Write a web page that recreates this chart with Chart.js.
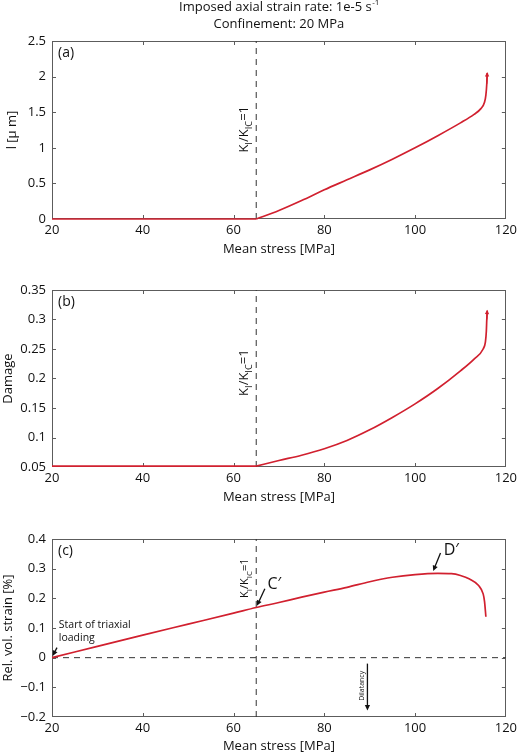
<!DOCTYPE html>
<html>
<head>
<meta charset="utf-8">
<script src="https://cdn.jsdelivr.net/npm/chart.js@4.4.1/dist/chart.umd.min.js"></script>
<style>
  html, body { margin: 0; padding: 0; background: #fff; }
  #wrap { position: relative; width: 520px; height: 754px; }
  .panel { position: absolute; left: 0; width: 520px; }
</style>
</head>
<body>
<div id="wrap">
  <div class="panel" style="top:0;height:257px"><canvas id="chartA"></canvas></div>
  <div class="panel" style="top:257px;height:248px"><canvas id="chartB"></canvas></div>
  <div class="panel" style="top:505px;height:249px"><canvas id="chartC"></canvas></div>
</div>
<script>
// values
const kThreshold = 65;
const ticksX = [20, 40, 60, 80, 100, 120];

const stressA = [20, 65, 70, 75, 80, 85, 90, 95, 100, 105, 110, 113, 114.5, 115.3, 115.6, 115.8, 115.9];
const lengthA = [0, 0, 0.12, 0.26, 0.41, 0.55, 0.69, 0.84, 1.0, 1.17, 1.35, 1.47, 1.55, 1.64, 1.74, 1.9, 2.05];
const ticksA = [0, 0.5, 1, 1.5, 2, 2.5];

const stressB = [20, 65, 70, 75, 80, 85, 90, 95, 100, 105, 110, 113, 115, 115.5, 115.7, 115.8, 115.9];
const damageB = [0.0515, 0.0515, 0.061, 0.070, 0.081, 0.095, 0.113, 0.134, 0.157, 0.183, 0.213, 0.233, 0.25, 0.262, 0.28, 0.3, 0.315];
const ticksB = [0.05, 0.1, 0.15, 0.2, 0.25, 0.3, 0.35];

const stressC = [20, 30, 40, 50, 60, 65, 70, 75, 80, 85, 90, 95, 100, 105, 108, 110, 112, 114, 115, 115.3, 115.6];
const strainC = [0, 0.038, 0.076, 0.113, 0.15, 0.169, 0.186, 0.204, 0.221, 0.237, 0.256, 0.271, 0.28, 0.284, 0.283, 0.277, 0.265, 0.243, 0.215, 0.19, 0.138];
const ticksC = [-0.2, -0.1, 0, 0.1, 0.2, 0.3, 0.4];

// annotations of panel (c), in data units
const arrowsC = [
  { from: [66.9, 0.232], to: [65.15, 0.175] },
  { from: [105.6, 0.353], to: [104.0, 0.292] },
  { from: [21.1, 0.034], to: [20.15, 0.006] },
  { from: [89.5, -0.02], to: [89.5, -0.178] }
];
const labelsC = [
  { text: 'C\u2032', at: [69.0, 0.248], size: 16 },
  { text: 'D\u2032', at: [108.0, 0.36], size: 16 },
  { text: 'Start of triaxial', at: [21.5, 0.11], size: 10.5, align: 'left' },
  { text: 'loading', at: [21.5, 0.066], size: 10.5, align: 'left' },
  { text: 'Dilatancy', at: [88.4, -0.095], size: 7, rotate: true }
];

const FONT = '"Open Sans", "DejaVu Sans", sans-serif';
const RED = '#d1202f';
const AXIS = '#5c5c5c';
const INK = '#111';

const pts = (xs, ys) => xs.map((x, i) => ({ x: x, y: ys[i] }));
const fmt = v => String(Number(v.toFixed(2))).replace('-', '\u2212');

function arrow(ctx, x1, y1, x2, y2, size, color) {
  const ang = Math.atan2(y2 - y1, x2 - x1);
  ctx.save();
  ctx.strokeStyle = color;
  ctx.fillStyle = color;
  ctx.lineWidth = 1.3;
  ctx.beginPath();
  ctx.moveTo(x1, y1);
  ctx.lineTo(x2 - Math.cos(ang) * size * 0.8, y2 - Math.sin(ang) * size * 0.8);
  ctx.stroke();
  ctx.beginPath();
  ctx.moveTo(x2, y2);
  ctx.lineTo(x2 - size * Math.cos(ang - 0.45), y2 - size * Math.sin(ang - 0.45));
  ctx.lineTo(x2 - size * Math.cos(ang + 0.45), y2 - size * Math.sin(ang + 0.45));
  ctx.closePath();
  ctx.fill();
  ctx.restore();
}

// K_I/K_IC=1, rotated, with subscripts
function kLabel(ctx, x, y, size) {
  const parts = [['K', 0], ['I', 1], ['/K', 0], ['IC', 1], ['=1', 0]];
  const sub = size * 0.72;
  let w = 0;
  parts.forEach(p => {
    ctx.font = (p[1] ? sub : size) + 'px ' + FONT;
    w += ctx.measureText(p[0]).width;
  });
  ctx.save();
  ctx.translate(x, y);
  ctx.rotate(-Math.PI / 2);
  ctx.fillStyle = INK;
  ctx.textAlign = 'left';
  ctx.textBaseline = 'alphabetic';
  let cx = -w / 2;
  parts.forEach(p => {
    ctx.font = (p[1] ? sub : size) + 'px ' + FONT;
    ctx.fillText(p[0], cx, p[1] ? size * 0.3 : 0);
    cx += ctx.measureText(p[0]).width;
  });
  ctx.restore();
}

const boxPlugin = {
  id: 'matlabBox',
  beforeDatasetsDraw(chart) {
    const ctx = chart.ctx;
    const a = chart.chartArea;
    const xs = chart.scales.x, ys = chart.scales.y;
    ctx.save();
    ctx.strokeStyle = AXIS;
    ctx.lineWidth = 1;
    ctx.strokeRect(Math.round(a.left) + 0.5, Math.round(a.top) + 0.5, Math.round(a.width) - 1, Math.round(a.height) - 1);
    ctx.beginPath();
    xs.ticks.forEach(t => {
      const p = Math.round(xs.getPixelForValue(t.value)) + 0.5;
      if (p < a.left + 2 || p > a.right - 2) return;
      ctx.moveTo(p, a.bottom); ctx.lineTo(p, a.bottom - 4);
      ctx.moveTo(p, a.top); ctx.lineTo(p, a.top + 4);
    });
    ys.ticks.forEach(t => {
      const p = Math.round(ys.getPixelForValue(t.value)) + 0.5;
      if (p < a.top + 2 || p > a.bottom - 2) return;
      ctx.moveTo(a.left, p); ctx.lineTo(a.left + 4, p);
      ctx.moveTo(a.right, p); ctx.lineTo(a.right - 4, p);
    });
    ctx.stroke();
    ctx.restore();
  },
  afterDatasetsDraw(chart, args, opts) {
    const ctx = chart.ctx;
    const a = chart.chartArea;
    const xs = chart.scales.x, ys = chart.scales.y;
    ctx.save();

    // panel letter
    ctx.fillStyle = INK;
    ctx.font = '14px ' + FONT;
    ctx.textAlign = 'left';
    ctx.textBaseline = 'middle';
    ctx.fillText(opts.letter, a.left + 6, a.top + 12);

    kLabel(ctx, xs.getPixelForValue(kThreshold) - 8, ys.getPixelForValue(opts.kAt), opts.kSize);

    if (opts.endArrow) {
      const d = chart.data.datasets[0].data;
      const p1 = d[d.length - 2], p2 = d[d.length - 1];
      arrow(ctx, xs.getPixelForValue(p1.x), ys.getPixelForValue(p1.y),
        xs.getPixelForValue(p2.x), ys.getPixelForValue(p2.y) - 1, 5, RED);
    }

    (opts.arrows || []).forEach(r => {
      arrow(ctx, xs.getPixelForValue(r.from[0]), ys.getPixelForValue(r.from[1]),
        xs.getPixelForValue(r.to[0]), ys.getPixelForValue(r.to[1]), 6, INK);
    });
    (opts.labels || []).forEach(l => {
      const px = xs.getPixelForValue(l.at[0]), py = ys.getPixelForValue(l.at[1]);
      ctx.save();
      ctx.fillStyle = INK;
      ctx.font = l.size + 'px ' + FONT;
      ctx.textAlign = l.align || 'center';
      ctx.textBaseline = 'middle';
      ctx.translate(px, py);
      if (l.rotate) ctx.rotate(-Math.PI / 2);
      ctx.fillText(l.text, 0, 0);
      ctx.restore();
    });

    if (opts.title) {
      const cx = (a.left + a.right) / 2;
      ctx.fillStyle = INK;
      ctx.font = '13px ' + FONT;
      ctx.textBaseline = 'middle';
      const main = 'Imposed axial strain rate: 1e-5 s';
      const sup = '-1';
      const w1 = ctx.measureText(main).width;
      ctx.font = '8px ' + FONT;
      const w2 = ctx.measureText(sup).width;
      ctx.font = '13px ' + FONT;
      ctx.textAlign = 'left';
      ctx.fillText(main, cx - (w1 + w2) / 2, 7);
      ctx.font = '8px ' + FONT;
      ctx.fillText(sup, cx - (w1 + w2) / 2 + w1 + 0.5, 3);
      ctx.font = '13px ' + FONT;
      ctx.textAlign = 'center';
      ctx.fillText('Confinement: 20 MPa', cx, 24);
    }
    ctx.restore();
  }
};

function makeChart(id, cfg) {
  const yTicks = cfg.ticks;
  const all = cfg.points;
  // curve after the kink is smoothed, the flat part before it stays straight
  const k = cfg.kinkIndex || 0;
  const datasets = [
    { data: all.slice(k), borderColor: RED, borderWidth: 1.7, pointRadius: 0,
      cubicInterpolationMode: 'monotone', clip: 3, order: 0 }
  ];
  if (k > 0) {
    datasets.push({ data: all.slice(0, k + 1), borderColor: RED, borderWidth: 1.7, pointRadius: 0,
      clip: 3, order: 0 });
  }
  datasets.push({ data: [{ x: kThreshold, y: yTicks[0] }, { x: kThreshold, y: yTicks[yTicks.length - 1] }],
    borderColor: '#333', borderWidth: 1, borderDash: [6, 5], pointRadius: 0, order: 1 });
  if (cfg.zeroLine) {
    datasets.push({ data: [{ x: ticksX[0], y: 0 }, { x: ticksX[ticksX.length - 1], y: 0 }],
      borderColor: '#333', borderWidth: 1, borderDash: [6, 5], pointRadius: 0, order: 2 });
  }
  return new Chart(document.getElementById(id), {
    type: 'line',
    data: { datasets: datasets },
    plugins: [boxPlugin],
    options: {
      responsive: true,
      maintainAspectRatio: false,
      animation: false,
      layout: { padding: { top: cfg.padTop, right: 9, left: 0, bottom: 0 } },
      plugins: {
        legend: { display: false },
        tooltip: { enabled: false },
        matlabBox: cfg.box
      },
      scales: {
        x: {
          type: 'linear',
          min: ticksX[0], max: ticksX[ticksX.length - 1],
          afterBuildTicks: s => { s.ticks = ticksX.map(v => ({ value: v })); },
          ticks: { padding: 3, color: INK, font: { family: FONT, size: 13 } },
          grid: { display: false, drawTicks: false },
          border: { display: false },
          title: { display: true, text: 'Mean stress [MPa]', padding: 0, color: INK, font: { family: FONT, size: 13 } },
          afterFit: s => { s.height = cfg.xHeight; }
        },
        y: {
          type: 'linear',
          min: yTicks[0], max: yTicks[yTicks.length - 1],
          afterBuildTicks: s => { s.ticks = yTicks.map(v => ({ value: v })); },
          ticks: { padding: 6, color: INK, font: { family: FONT, size: 13 }, callback: v => fmt(v) },
          grid: { display: false, drawTicks: false },
          border: { display: false },
          title: { display: true, text: cfg.yTitle, padding: cfg.yTitlePad, color: INK, font: { family: FONT, size: 13 } },
          afterFit: s => { s.width = 52; }
        }
      }
    }
  });
}

makeChart('chartA', {
  points: pts(stressA, lengthA), kinkIndex: 1, ticks: ticksA, padTop: 41, xHeight: 38,
  yTitle: 'l [\u03bc m]', yTitlePad: 4,
  box: { letter: '(a)', kAt: 1.26, kSize: 13, endArrow: true, title: true }
});
makeChart('chartB', {
  points: pts(stressB, damageB), kinkIndex: 1, ticks: ticksB, padTop: 33, xHeight: 38,
  yTitle: 'Damage', yTitlePad: 0,
  box: { letter: '(b)', kAt: 0.21, kSize: 13, endArrow: true }
});
makeChart('chartC', {
  points: pts(stressC, strainC), ticks: ticksC, padTop: 34, xHeight: 37, zeroLine: true,
  yTitle: 'Rel. vol. strain [%]', yTitlePad: 0,
  box: { letter: '(c)', kAt: 0.268, kSize: 11, arrows: arrowsC, labels: labelsC }
});
</script>
</body>
</html>
